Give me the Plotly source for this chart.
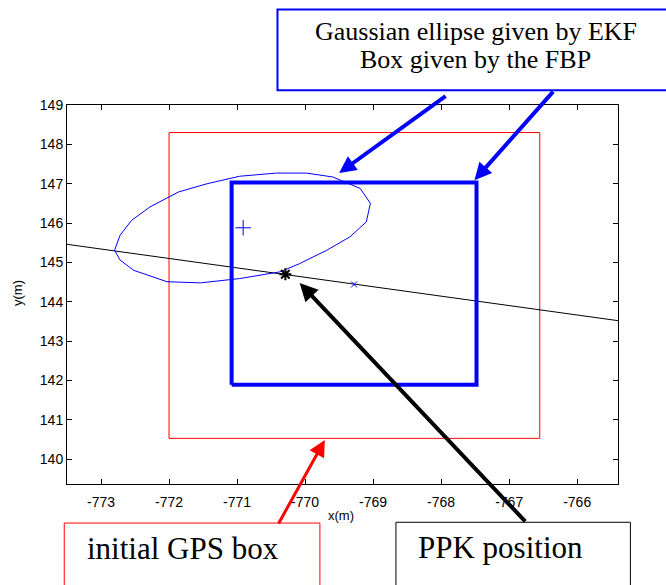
import plotly.graph_objects as go

# GPS box (rouge), boîte FBP (bleue), ellipse EKF
gps_box_x = [-772.0, -766.55, -766.55, -772.0, -772.0]
gps_box_y = [140.53, 140.53, 148.3, 148.3, 140.53]

fbp_box_x = [-771.08, -767.48, -767.48, -771.08, -771.08]
fbp_box_y = [141.89, 141.89, 147.03, 147.03, 141.89]

ellipse_x = [-772.80, -772.72, -772.55, -772.28, -771.86, -771.44, -770.96, -770.42,
             -769.98, -769.59, -769.19, -769.04, -769.10, -769.34, -769.68, -770.08,
             -770.37, -770.96, -771.54, -772.03, -772.52, -772.72, -772.80]
ellipse_y = [145.31, 145.69, 146.07, 146.41, 146.79, 147.00, 147.19, 147.27,
             147.27, 147.17, 146.88, 146.50, 146.03, 145.65, 145.31, 144.97,
             144.76, 144.59, 144.48, 144.51, 144.80, 145.06, 145.31]

track_x = [-773.5, -765.4]
track_y = [145.46, 143.52]

ekf_center = (-770.91, 145.88)
ppk_pos = (-770.29, 144.70)
other_pos = (-769.28, 144.44)

x_ticks = [-773, -772, -771, -770, -769, -768, -767, -766]
x_tick_text = ['-773', '-772', '-771', '-770', '-769', '-768', '-767', '-766']
y_ticks = [140, 141, 142, 143, 144, 145, 146, 147, 148, 149]

fig = go.Figure()

fig.add_trace(go.Scatter(x=gps_box_x, y=gps_box_y, mode='lines',
                         line=dict(color='red', width=1)))
fig.add_trace(go.Scatter(x=track_x, y=track_y, mode='lines',
                         line=dict(color='black', width=1)))
fig.add_trace(go.Scatter(x=ellipse_x, y=ellipse_y, mode='lines',
                         line=dict(color='blue', width=1)))
fig.add_trace(go.Scatter(x=fbp_box_x, y=fbp_box_y, mode='lines',
                         line=dict(color='blue', width=4)))
fig.add_trace(go.Scatter(x=[ekf_center[0]], y=[ekf_center[1]], mode='markers',
                         marker=dict(symbol='cross-thin-open', size=11, color='blue',
                                     line=dict(width=1))))
fig.add_trace(go.Scatter(x=[ppk_pos[0]], y=[ppk_pos[1]], mode='markers',
                         marker=dict(symbol='asterisk-open', size=10, color='black',
                                     line=dict(width=2))))
fig.add_trace(go.Scatter(x=[other_pos[0]], y=[other_pos[1]], mode='markers',
                         marker=dict(symbol='x-thin-open', size=6, color='blue',
                                     line=dict(width=1))))

axis_style = dict(showgrid=False, zeroline=False, showline=True, linecolor='black',
                  linewidth=1, mirror='ticks', ticks='inside', ticklen=5,
                  tickcolor='black', tickfont=dict(family='Liberation Sans', size=14, color='black'))

fig.update_layout(
    width=666, height=585,
    margin=dict(l=67, r=48, t=105, b=101),
    plot_bgcolor='white', paper_bgcolor='white',
    showlegend=False,
    xaxis=dict(range=[-773.5, -765.4], tickvals=x_ticks, ticktext=x_tick_text,
               ticklabelstandoff=5, **axis_style),
    yaxis=dict(range=[139.37, 149.0], tickvals=y_ticks, **axis_style),
)

# boîtes de texte
fig.add_shape(type='rect', xref='paper', yref='paper', x0=0.382, x1=1.10, y0=1.039, y1=1.252,
              line=dict(color='blue', width=2))
fig.add_shape(type='rect', xref='paper', yref='paper', x0=-0.005, x1=0.459, y0=-0.30, y1=-0.103,
              line=dict(color='red', width=1))
fig.add_shape(type='rect', xref='paper', yref='paper', x0=0.597, x1=1.0225, y0=-0.30, y1=-0.101,
              line=dict(color='black', width=1))

serif = dict(family='Liberation Serif', color='black')
fig.add_annotation(xref='paper', yref='paper', x=0.742, y=1.193, xanchor='center', yanchor='middle',
                   showarrow=False, text='Gaussian ellipse given by EKF', font=dict(size=26, **serif))
fig.add_annotation(xref='paper', yref='paper', x=0.742, y=1.121, xanchor='center', yanchor='middle',
                   showarrow=False, text='Box given by the FBP', font=dict(size=26, **serif))
fig.add_annotation(xref='paper', yref='paper', x=0.033, y=-0.17, xanchor='left', yanchor='middle',
                   showarrow=False, text='initial GPS box', font=dict(size=31, **serif))
fig.add_annotation(xref='paper', yref='paper', x=0.634, y=-0.168, xanchor='left', yanchor='middle',
                   showarrow=False, text='PPK position', font=dict(size=31, **serif))

# titres des axes
fig.add_annotation(xref='paper', yref='paper', x=0.497, y=-0.0835, xanchor='center', yanchor='middle',
                   showarrow=False, text='x(m)', font=dict(family='Liberation Sans', size=13, color='black'))
fig.add_annotation(xref='paper', yref='paper', x=-0.09, y=0.505, xanchor='center', yanchor='middle',
                   showarrow=False, textangle=-90,
                   text='y(m)', font=dict(family='Liberation Sans', size=13, color='black'))

# flèches
arrows = [
    (-769.50, 147.27, 108, -78, 'blue', 4, 0.85),
    (-767.51, 147.09, 80, -90, 'blue', 4, 0.85),
    (-770.08, 144.48, 227, 240, 'black', 4, 0.9),
    (-769.71, 140.49, -47, 85, 'red', 3, 1.1),
]
for hx, hy, ax, ay, col, w, s in arrows:
    fig.add_annotation(x=hx, y=hy, ax=ax, ay=ay, xref='x', yref='y', text='',
                       showarrow=True, arrowhead=2, arrowwidth=w, arrowsize=s,
                       arrowcolor=col, standoff=0, startstandoff=0)

fig.write_html("out.html", config={'displayModeBar': False},
               post_script="document.body.style.margin='0';document.body.style.overflow='hidden';")
